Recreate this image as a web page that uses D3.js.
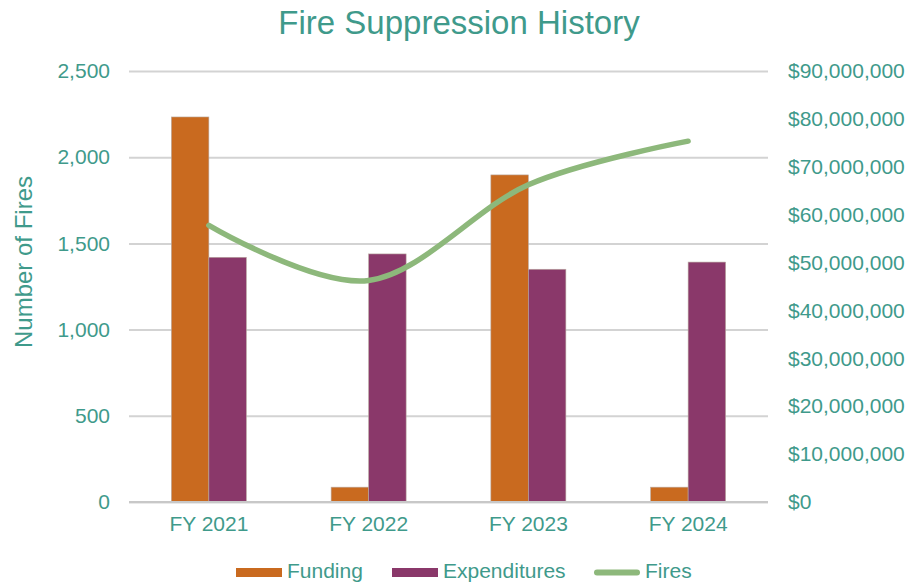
<!DOCTYPE html>
<html>
<head>
<meta charset="utf-8">
<script src="https://cdn.jsdelivr.net/npm/d3@7"></script>
<style>
  html, body { margin: 0; padding: 0; background: #fff; }
  svg { display: block; font-family: "Liberation Sans", Arial, sans-serif; }
</style>
</head>
<body>
<svg id="chart" width="910" height="583"></svg>
<script>
// Fiscal years and series
const years = ["FY 2021", "FY 2022", "FY 2023", "FY 2024"];
const funding = [80400000, 3100000, 68300000, 3100000];
const expenditures = [51100000, 51800000, 48600000, 50100000];
const fires = [1605, 1285, 1840, 2093];

// Axis ticks
const fireTicks = [0, 500, 1000, 1500, 2000, 2500];
const dollarTicks = [0, 10e6, 20e6, 30e6, 40e6, 50e6, 60e6, 70e6, 80e6, 90e6];

const textColor = "#3f9a8b";
const colors = { funding: "#c96a1f", expenditures: "#8a386a", fires: "#8db87b" };
const font = "Liberation Sans, Arial, sans-serif";

const svg = d3.select("#chart");
const plot = { left: 129, right: 768, top: 71, bottom: 502 };

const x = d3.scaleBand().domain(years).range([plot.left, plot.right]).paddingInner(0).paddingOuter(0);
const xSeries = d3.scaleBand().domain(["funding", "expenditures"])
  .range([0, x.bandwidth()]).paddingInner(0).paddingOuter(1.13);
const yFires = d3.scaleLinear().domain([0, 2500]).range([plot.bottom, plot.top]);
const yDollars = d3.scaleLinear().domain([0, 90e6]).range([plot.bottom, plot.top]);

// Title
svg.append("text")
  .attr("x", 459).attr("y", 34)
  .attr("text-anchor", "middle")
  .attr("font-size", 33)
  .attr("fill", textColor)
  .text("Fire Suppression History");

// Gridlines and left axis
const leftAxis = svg.append("g")
  .attr("transform", `translate(${plot.left},0)`)
  .call(d3.axisLeft(yFires).tickValues(fireTicks)
    .tickSize(-(plot.right - plot.left)).tickPadding(19)
    .tickFormat(d3.format(",")));
leftAxis.select(".domain").remove();
leftAxis.selectAll(".tick line").attr("stroke", "#d3d3d3").attr("stroke-width", 2);
leftAxis.selectAll(".tick text").attr("fill", textColor).attr("font-size", 21)
  .attr("font-family", font);

// Right axis (labels only)
const rightAxis = svg.append("g")
  .attr("transform", `translate(${plot.right},0)`)
  .call(d3.axisRight(yDollars).tickValues(dollarTicks).tickSize(0).tickPadding(20)
    .tickFormat(d => "$" + d3.format(",")(d)));
rightAxis.select(".domain").remove();
rightAxis.selectAll(".tick text").attr("fill", textColor).attr("font-size", 21)
  .attr("font-family", font);

// Bars
const series = [
  { key: "funding", values: funding },
  { key: "expenditures", values: expenditures }
];
const bars = svg.append("g");
series.forEach(s => {
  bars.selectAll(null)
    .data(years.map((yr, i) => ({ yr, v: s.values[i] })))
    .join("rect")
    .attr("x", d => x(d.yr) + xSeries(s.key))
    .attr("width", xSeries.bandwidth())
    .attr("y", d => yDollars(d.v))
    .attr("height", d => plot.bottom - yDollars(d.v))
    .attr("fill", colors[s.key])
    .attr("stroke", "#b9a9a0")
    .attr("stroke-width", 0.6);
});

// Baseline
svg.append("line")
  .attr("x1", plot.left).attr("x2", plot.right)
  .attr("y1", plot.bottom).attr("y2", plot.bottom)
  .attr("stroke", "#c8c8c8").attr("stroke-width", 2);

// Fires line (smoothed)
const line = d3.line()
  .x((d, i) => x(years[i]) + x.bandwidth() / 2)
  .y(d => yFires(d))
  .curve(d3.curveCardinal.tension(0));
svg.append("path")
  .datum(fires)
  .attr("d", line)
  .attr("fill", "none")
  .attr("stroke", colors.fires)
  .attr("stroke-width", 5.5)
  .attr("stroke-linecap", "round");

// X axis labels
const bottomAxis = svg.append("g")
  .attr("transform", `translate(0,${plot.bottom})`)
  .call(d3.axisBottom(x).tickSize(0).tickPadding(14));
bottomAxis.select(".domain").remove();
bottomAxis.selectAll(".tick text").attr("fill", textColor).attr("font-size", 21)
  .attr("font-family", font);

// Left axis title
svg.append("text")
  .attr("transform", "translate(24,262) rotate(-90)")
  .attr("text-anchor", "middle")
  .attr("dy", "0.35em")
  .attr("font-size", 24)
  .attr("fill", textColor)
  .text("Number of Fires");

// Legend
const legendItems = [
  { label: "Funding", key: "funding", type: "rect", x: 236 },
  { label: "Expenditures", key: "expenditures", type: "rect", x: 392 },
  { label: "Fires", key: "fires", type: "line", x: 594 }
];
const legend = svg.append("g");
legendItems.forEach(it => {
  if (it.type === "rect") {
    legend.append("rect").attr("x", it.x).attr("y", 568).attr("width", 46).attr("height", 9)
      .attr("fill", colors[it.key]);
  } else {
    legend.append("line").attr("x1", it.x + 3).attr("x2", it.x + 43)
      .attr("y1", 572.5).attr("y2", 572.5)
      .attr("stroke", colors.fires).attr("stroke-width", 6).attr("stroke-linecap", "round");
  }
  legend.append("text").attr("x", it.x + 51).attr("y", 578)
    .attr("font-size", 21).attr("fill", textColor).text(it.label);
});
</script>
</body>
</html>
